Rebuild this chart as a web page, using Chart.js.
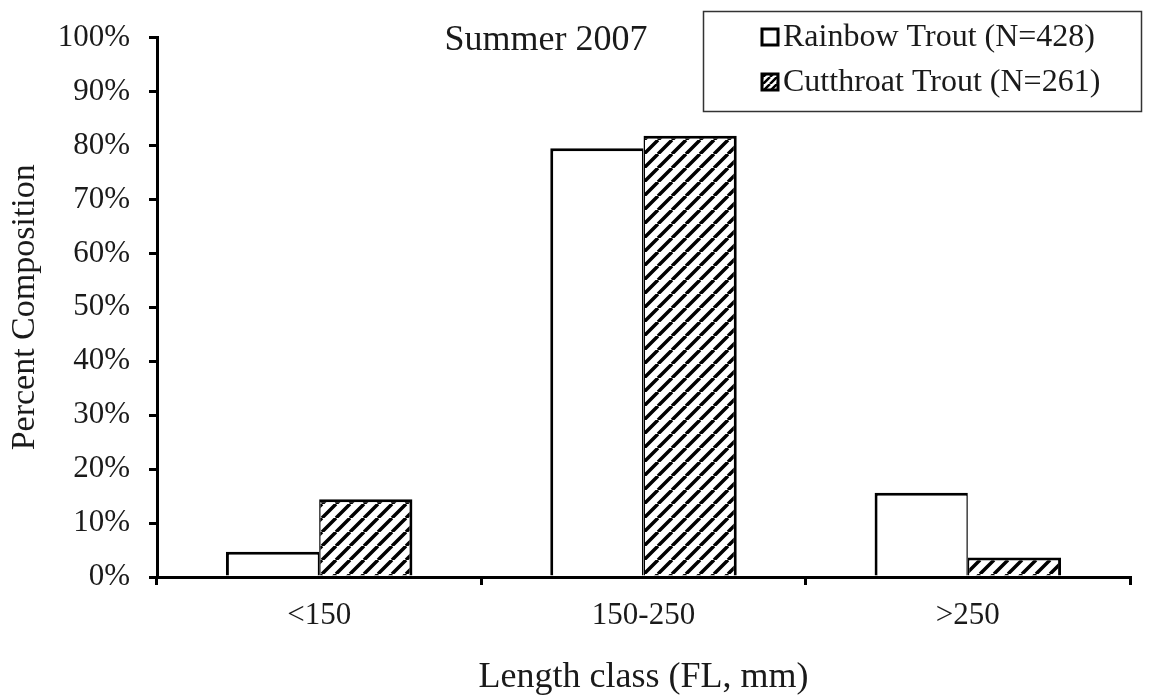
<!DOCTYPE html>
<html>
<head>
<meta charset="utf-8">
<script src="https://cdn.jsdelivr.net/npm/chart.js@4.4.1/dist/chart.umd.min.js"></script>
<style>
  html, body { margin: 0; padding: 0; background: #fff; }
  #wrap { width: 1154px; height: 696px; position: relative; }
</style>
</head>
<body>
<div id="wrap"><canvas id="grafico"></canvas></div>
<script>
// Datos (porcentaje de composicion por clase de longitud)
const CATEGORIAS = ["<150", "150-250", ">250"];
const RAINBOW = [4.7, 79.5, 15.6];
const CUTTHROAT = [14.4, 81.8, 3.6];
const Y_MIN = 0;
const Y_MAX = 100;
const Y_PASO = 10;
const TITULO = "Summer 2007";
const LEYENDA = ["Rainbow Trout (N=428)", "Cutthroat Trout (N=261)"];
const TITULO_X = "Length class (FL, mm)";
const TITULO_Y = "Percent Composition";

const FUENTE = "'Liberation Serif', 'Times New Roman', serif";
const NEGRO = "#000";
const TEXTO = "#1a1a1a";

// patron de rayas diagonales "/" para la serie Cutthroat
function crearRayado(tam, grosor) {
  const c = document.createElement("canvas");
  c.width = tam; c.height = tam;
  const g = c.getContext("2d");
  g.fillStyle = "#fff";
  g.fillRect(0, 0, tam, tam);
  g.strokeStyle = NEGRO;
  g.lineWidth = grosor;
  g.beginPath();
  [-1, 0, 1].forEach(k => {
    g.moveTo(k * tam, tam);
    g.lineTo(k * tam + tam, 0);
  });
  g.stroke();
  return g.createPattern(c, "repeat");
}

const rayado = crearRayado(14, 3.5);
const rayadoChico = crearRayado(7, 2.5);

// titulo y leyenda dentro del area del grafico
const pluginAnotaciones = {
  id: "anotaciones",
  afterDraw(chart) {
    const ctx = chart.ctx;
    ctx.save();
    ctx.fillStyle = TEXTO;
    ctx.textBaseline = "middle";

    ctx.font = "36px " + FUENTE;
    ctx.textAlign = "center";
    ctx.fillText(TITULO, 546, 41);

    // caja de la leyenda
    ctx.strokeStyle = "#333";
    ctx.lineWidth = 1.5;
    ctx.strokeRect(703.5, 11.5, 438, 100);

    const filas = [37, 82];
    ctx.font = "32px " + FUENTE;
    ctx.textAlign = "left";
    filas.forEach((y, i) => {
      ctx.fillStyle = i === 0 ? "#fff" : rayadoChico;
      ctx.fillRect(762, y - 8, 16, 16);
      ctx.strokeStyle = NEGRO;
      ctx.lineWidth = 3;
      ctx.strokeRect(762, y - 8, 16, 16);
      ctx.fillStyle = TEXTO;
      ctx.fillText(LEYENDA[i], 783, y + 1);
    });
    ctx.restore();
  }
};

const ctx = document.getElementById("grafico").getContext("2d");
new Chart(ctx, {
  type: "bar",
  data: {
    labels: CATEGORIAS,
    datasets: [
      {
        label: LEYENDA[0],
        data: RAINBOW,
        backgroundColor: "#fff",
        borderColor: NEGRO,
        borderWidth: { top: 3, left: 3, right: 1.5, bottom: 0 },
        borderSkipped: false
      },
      {
        label: LEYENDA[1],
        data: CUTTHROAT,
        backgroundColor: rayado,
        borderColor: NEGRO,
        borderWidth: { top: 3, left: 1.5, right: 3, bottom: 0 },
        borderSkipped: false
      }
    ]
  },
  options: {
    responsive: true,
    maintainAspectRatio: false,
    animation: false,
    events: [],
    layout: { padding: { top: 27, right: 24, left: 0, bottom: 0 } },
    datasets: { bar: { categoryPercentage: 0.575, barPercentage: 1.0 } },
    plugins: {
      legend: { display: false },
      tooltip: { enabled: false }
    },
    scales: {
      x: {
        afterFit: (s) => { s.height = 119; },
        grid: {
          offset: true,
          drawOnChartArea: false,
          drawTicks: true,
          tickLength: 8,
          color: NEGRO,
          lineWidth: 3
        },
        border: { display: true, color: NEGRO, width: 3 },
        ticks: {
          color: TEXTO,
          padding: 12,
          font: { family: FUENTE, size: 31 }
        },
        title: {
          display: true,
          text: TITULO_X,
          color: TEXTO,
          padding: { top: 0, bottom: 0 },
          font: { family: FUENTE, size: 36, lineHeight: 1 }
        }
      },
      y: {
        min: Y_MIN,
        max: Y_MAX,
        afterFit: (s) => { s.width = 157; },
        grid: {
          drawOnChartArea: false,
          drawTicks: true,
          tickLength: 8,
          color: NEGRO,
          lineWidth: 3
        },
        border: { display: true, color: NEGRO, width: 3 },
        ticks: {
          stepSize: Y_PASO,
          color: TEXTO,
          padding: 19,
          font: { family: FUENTE, size: 31 },
          callback: (v) => v + "%"
        },
        title: {
          display: true,
          text: TITULO_Y,
          color: TEXTO,
          padding: { top: 8, bottom: 0 },
          font: { family: FUENTE, size: 34, lineHeight: 1 }
        }
      }
    }
  },
  plugins: [pluginAnotaciones]
});
</script>
</body>
</html>
